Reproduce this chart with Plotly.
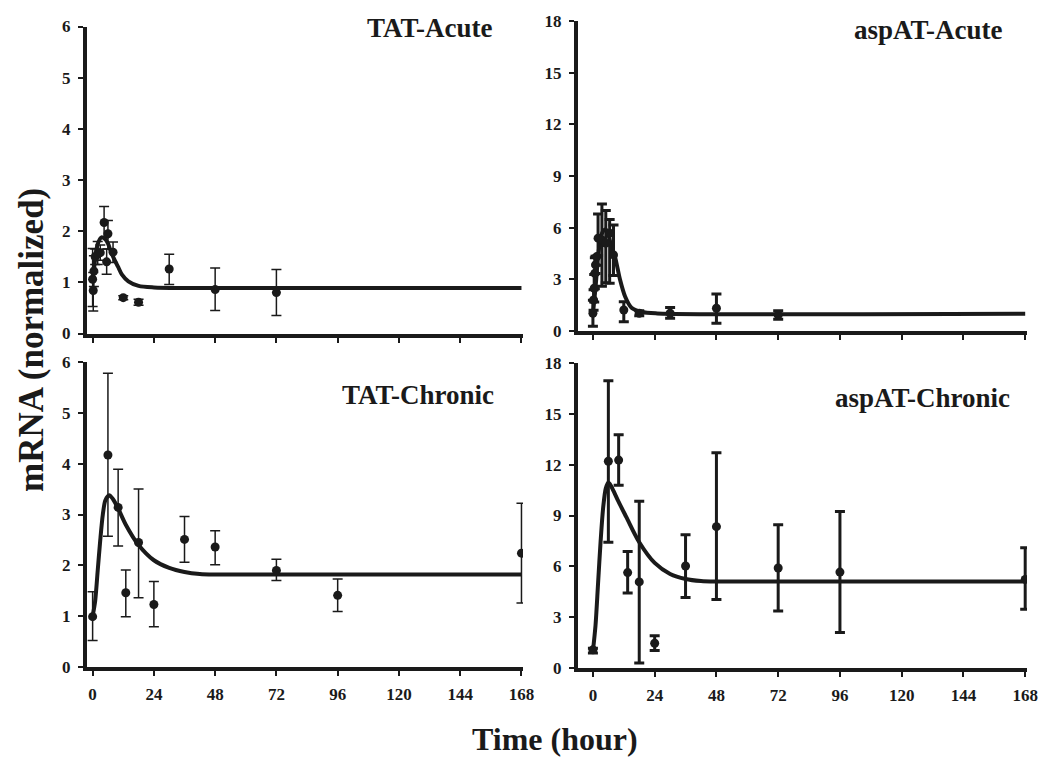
import plotly.graph_objects as go

# ---------------- data ----------------
# TAT-Acute
tat_ac_t = [0, 0.25, 0.5, 1, 2, 3, 4.5, 5.5, 6, 8, 12, 18, 30, 48, 72]
tat_ac_y = [1.06, 0.84, 1.22, 1.50, 1.55, 1.58, 2.17, 1.40, 1.95, 1.59, 0.70, 0.61, 1.26, 0.86, 0.80]
tat_ac_ep = [0.60, 0.35, 0.30, 0.15, 0.25, 0.15, 0.31, 0.25, 0.26, 0.20, 0.04, 0.06, 0.29, 0.42, 0.45]
tat_ac_em = [0.53, 0.40, 0.30, 0.15, 0.20, 0.15, 0.30, 0.24, 0.30, 0.20, 0.04, 0.06, 0.30, 0.41, 0.45]
tat_ac_fit_t = [0, 1, 2, 3.5, 5, 6, 7, 8.5, 10, 11.5, 14, 18, 24, 36, 168]
tat_ac_fit_y = [1.0, 1.45, 1.75, 1.88, 1.84, 1.76, 1.62, 1.45, 1.30, 1.15, 1.02, 0.93, 0.90, 0.89, 0.89]

# aspAT-Acute
asp_ac_t = [0, 0.25, 0.5, 0.75, 1, 1.5, 2, 3.5, 5, 6.5, 8, 12, 18, 30, 48, 72]
asp_ac_y = [1.03, 1.80, 2.48, 3.35, 3.84, 4.32, 5.39, 5.29, 5.10, 5.68, 4.42, 1.22, 1.03, 1.03, 1.32, 0.93]
asp_ac_ep = [0.75, 0.60, 0.80, 0.90, 0.50, 0.04, 1.40, 2.08, 1.90, 0.80, 1.74, 0.48, 0.15, 0.33, 0.83, 0.25]
asp_ac_em = [0.75, 0.60, 0.80, 0.90, 0.50, 0.50, 1.00, 2.69, 2.30, 2.91, 1.20, 0.68, 0.15, 0.29, 0.87, 0.25]
asp_ac_fit_t = [0, 1, 2, 3, 4, 5, 6, 7, 8.6, 10.5, 12.5, 15, 19, 25, 168]
asp_ac_fit_y = [1.0, 2.5, 4.3, 5.4, 5.8, 5.9, 5.6, 5.0, 4.3, 3.0, 2.0, 1.35, 1.10, 1.02, 1.0]

# TAT-Chronic
tat_ch_t = [0, 6, 10, 13, 18, 24, 36, 48, 72, 96, 168]
tat_ch_y = [0.99, 4.17, 3.14, 1.46, 2.45, 1.23, 2.51, 2.36, 1.90, 1.41, 2.24]
tat_ch_ep = [0.49, 1.61, 0.75, 0.45, 1.05, 0.45, 0.45, 0.32, 0.22, 0.32, 0.98]
tat_ch_em = [0.47, 1.60, 0.76, 0.47, 1.09, 0.44, 0.45, 0.35, 0.20, 0.32, 0.98]
tat_ch_fit_t = [0, 1, 2, 3, 4, 5, 6.5, 8, 10, 13, 18, 24, 30, 36, 42, 48, 168]
tat_ch_fit_y = [1.0, 1.3, 1.9, 2.5, 3.0, 3.28, 3.38, 3.30, 3.12, 2.80, 2.40, 2.10, 1.95, 1.87, 1.83, 1.82, 1.82]

# aspAT-Chronic
asp_ch_t = [0, 6, 10, 13.5, 18, 24, 36, 48, 72, 96, 168]
asp_ch_y = [1.07, 12.20, 12.27, 5.63, 5.08, 1.46, 6.02, 8.34, 5.90, 5.66, 5.23]
asp_ch_ep = [0.10, 4.75, 1.50, 1.25, 4.76, 0.45, 1.85, 4.36, 2.56, 3.58, 1.86]
asp_ch_em = [0.19, 4.78, 1.49, 1.20, 4.79, 0.42, 1.86, 4.30, 2.54, 3.57, 1.77]
asp_ch_fit_t = [0, 1, 2, 3, 4, 5, 6, 7, 8, 10, 13, 18, 24, 30, 36, 42, 48, 168]
asp_ch_fit_y = [1.0, 2.5, 5.0, 7.5, 9.5, 10.6, 10.95, 10.75, 10.45, 9.8, 8.9, 7.42, 6.2, 5.55, 5.25, 5.13, 5.10, 5.10]

x_ticks = [0, 24, 48, 72, 96, 120, 144, 168]
tat_y_ticks = [0, 1, 2, 3, 4, 5, 6]
asp_y_ticks = [0, 3, 6, 9, 12, 15, 18]

panel_titles = ["TAT-Acute", "aspAT-Acute", "TAT-Chronic", "aspAT-Chronic"]

# ---------------- figure ----------------
W, H = 1040, 758
INK = "#1a1a1a"
FONT = "Liberation Serif"

def xd(a, b):
    return [a / W, b / W]

def yd(top, bottom):
    return [1 - bottom / H, 1 - top / H]

panels = [
    dict(t=tat_ac_t, y=tat_ac_y, ep=tat_ac_ep, em=tat_ac_em, ft=tat_ac_fit_t, fy=tat_ac_fit_y,
         xdom=xd(87, 523), ydom=yd(26.5, 333.5), xr=[-2.2, 168.6], yr=[0, 6], yt=tat_y_ticks,
         lab=False, eth=1.5),
    dict(t=asp_ac_t, y=asp_ac_y, ep=asp_ac_ep, em=asp_ac_em, ft=asp_ac_fit_t, fy=asp_ac_fit_y,
         xdom=xd(578, 1027), ydom=yd(21, 331), xr=[-5.8, 168.7], yr=[0, 18], yt=asp_y_ticks,
         lab=False, eth=3),
    dict(t=tat_ch_t, y=tat_ch_y, ep=tat_ch_ep, em=tat_ch_em, ft=tat_ch_fit_t, fy=tat_ch_fit_y,
         xdom=xd(87, 523), ydom=yd(362, 667), xr=[-2.2, 168.6], yr=[0, 6], yt=tat_y_ticks,
         lab=True, eth=1.5),
    dict(t=asp_ch_t, y=asp_ch_y, ep=asp_ch_ep, em=asp_ch_em, ft=asp_ch_fit_t, fy=asp_ch_fit_y,
         xdom=xd(578, 1027), ydom=yd(363, 668), xr=[-5.8, 168.7], yr=[0, 18], yt=asp_y_ticks,
         lab=True, eth=3),
]

fig = go.Figure()
layout = dict(
    template="none",
    width=W, height=H,
    margin=dict(l=0, r=0, t=0, b=0),
    paper_bgcolor="white", plot_bgcolor="white",
    showlegend=False,
    font=dict(family=FONT, color=INK),
)

for i, p in enumerate(panels):
    n = "" if i == 0 else str(i + 1)
    xa, ya = "x" + n, "y" + n
    fig.add_trace(go.Scatter(
        x=p["ft"], y=p["fy"], mode="lines", xaxis=xa, yaxis=ya,
        line=dict(color=INK, width=4, shape="spline", smoothing=0.8),
        hoverinfo="skip"))
    fig.add_trace(go.Scatter(
        x=p["t"], y=p["y"], mode="markers", xaxis=xa, yaxis=ya,
        marker=dict(color=INK, size=9),
        error_y=dict(type="data", symmetric=False, array=p["ep"], arrayminus=p["em"],
                     color=INK, thickness=p["eth"], width=5)))
    layout["xaxis" + n] = dict(
        domain=p["xdom"], anchor=ya, range=p["xr"], automargin=False,
        tickmode="array", tickvals=x_ticks, ticktext=[str(v) for v in x_ticks],
        showticklabels=p["lab"], ticks="outside", ticklen=5, tickwidth=1.5, tickcolor=INK,
        showline=True, linewidth=4, linecolor=INK, showgrid=False, zeroline=False,
        tickfont=dict(family=FONT, size=17, color=INK, weight="bold"),
        ticklabelstandoff=4,
    )
    layout["yaxis" + n] = dict(
        domain=p["ydom"], anchor=xa, range=p["yr"], automargin=False,
        tickmode="array", tickvals=p["yt"], ticktext=[str(v) for v in p["yt"]],
        ticks="outside", ticklen=5, tickwidth=1.5, tickcolor=INK,
        showline=True, linewidth=4, linecolor=INK, showgrid=False, zeroline=False,
        tickfont=dict(family=FONT, size=17, color=INK, weight="bold"),
        ticklabelstandoff=4,
    )

title_pos = [(430, 28), (928, 30), (418, 395), (922, 398)]
annotations = []
for txt, (ax, ay) in zip(panel_titles, title_pos):
    annotations.append(dict(
        text="<b>%s</b>" % txt, x=ax / W, y=1 - ay / H, xref="paper", yref="paper",
        showarrow=False, xanchor="center", yanchor="middle",
        font=dict(family=FONT, size=27, color=INK)))
annotations.append(dict(
    text="<b>Time (hour)</b>", x=555 / W, y=1 - 739 / H, xref="paper", yref="paper",
    showarrow=False, xanchor="center", yanchor="middle", borderpad=0,
    font=dict(family=FONT, size=32, color=INK)))
annotations.append(dict(
    text="<b>mRNA (normalized)</b>", x=31 / W, y=1 - 340 / H, xref="paper", yref="paper",
    showarrow=False, xanchor="center", yanchor="middle", textangle=-90,
    font=dict(family=FONT, size=35, color=INK)))
layout["annotations"] = annotations

fig.update_layout(**layout)
fig.write_html(
    "out.html",
    config={"displayModeBar": False},
    post_script="document.body.style.margin='0';document.body.style.overflow='hidden';",
)
